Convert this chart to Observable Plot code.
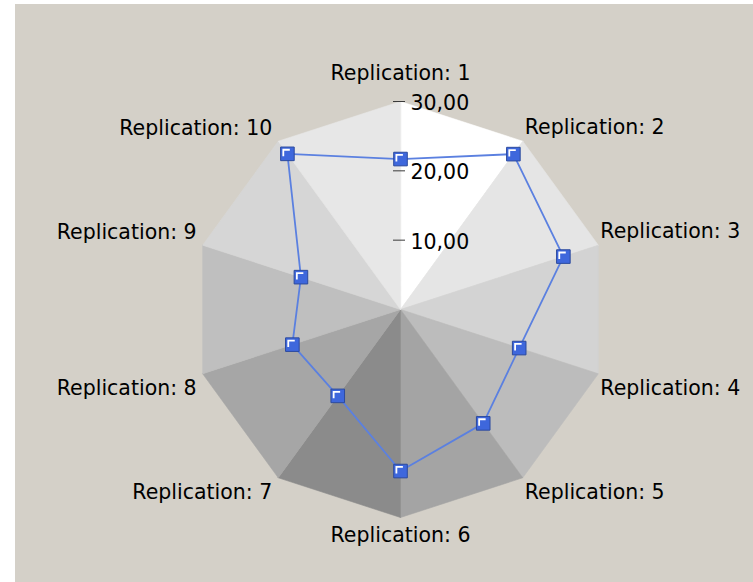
<!DOCTYPE html>
<html>
<head>
<meta charset="utf-8">
<script src="https://cdn.jsdelivr.net/npm/d3@7"></script>
<script src="https://cdn.jsdelivr.net/npm/@observablehq/plot@0.6"></script>
<style>
  html, body { margin: 0; padding: 0; background: #ffffff; }
  #wrap { position: relative; width: 753px; height: 582px; overflow: hidden; }
  #panel { position: absolute; left: 15px; top: 4px; right: 0; bottom: 0; background: #d4d0c8; }
  #chart { position: absolute; left: 0; top: 0; }
</style>
</head>
<body>
<div id="wrap"><div id="panel"></div><div id="chart"></div></div>
<script>
// Radar axes, one per replication, clockwise from the top
const categories = [
  "Replication: 1", "Replication: 2", "Replication: 3", "Replication: 4", "Replication: 5",
  "Replication: 6", "Replication: 7", "Replication: 8", "Replication: 9", "Replication: 10"
];
// Measured value on each axis
const values = [21.7, 27.7, 24.7, 18.0, 20.3, 23.3, 15.4, 16.4, 15.1, 27.75];
// Radial ticks printed along the first axis
const tickValues = [10, 20, 30];
const axisMax = 30;
// Shade of each pyramid face, face i lies between axis i and axis i+1
const faceShades = ["#ffffff", "#e5e5e5", "#d3d3d3", "#bcbcbc", "#a4a4a4",
                    "#8b8b8b", "#a6a6a6", "#bfbfbf", "#d6d6d6", "#e7e7e7"];

const n = categories.length;
const angle = i => (2 * Math.PI * i) / n;
const px = (v, i) => v * Math.sin(angle(i));
const py = (v, i) => v * Math.cos(angle(i));
const fmt = v => v.toFixed(2).replace(".", ",");

const points = values.map((value, i) => ({category: categories[i], value, i}));
const labels = categories.map((category, i) => ({category, i}));

// Filled triangular faces of the background pyramid
const faceMarks = faceShades.map((shade, i) => Plot.line(
  [{v: 0, i}, {v: axisMax, i}, {v: axisMax, i: (i + 1) % n}],
  {x: d => px(d.v, d.i), y: d => py(d.v, d.i), curve: "linear-closed",
   fill: shade, stroke: shade, strokeWidth: 0.6}
));

// Square marker with a light bevel in its upper-left corner
const squareSymbol = {
  draw(ctx, size) {
    const h = Math.sqrt(size / Math.PI);
    ctx.moveTo(-h, -h); ctx.lineTo(h, -h); ctx.lineTo(h, h); ctx.lineTo(-h, h); ctx.closePath();
  }
};
const bevelSymbol = {
  draw(ctx, size) {
    const h = Math.sqrt(size / Math.PI);
    ctx.moveTo(-h + 2.7, h - 4.4);
    ctx.lineTo(-h + 2.7, -h + 2.7);
    ctx.lineTo(h - 4.4, -h + 2.7);
  }
};

// Category labels sit just outside their vertex
const labelGroup = (idx, opts) => Plot.text(labels.filter(d => idx.includes(d.i)), {
  x: d => px(axisMax, d.i), y: d => py(axisMax, d.i), text: "category",
  fontSize: 20.5, fill: "#000000", ...opts
});

const chart = Plot.plot({
  width: 753,
  height: 582,
  marginLeft: 192,
  marginRight: 145,
  marginTop: 101,
  marginBottom: 65,
  x: {domain: [-axisMax, axisMax], axis: null},
  y: {domain: [-axisMax, axisMax], axis: null},
  style: {fontFamily: "'DejaVu Sans', sans-serif", background: "transparent", overflow: "visible"},
  marks: [
    ...faceMarks,
    Plot.ruleY(tickValues, {y: d => d, x1: 0, x2: 0, insetLeft: -7, insetRight: -5,
      stroke: "#3a3a3a", strokeWidth: 1}),
    Plot.text(tickValues, {x: 0, y: d => d, text: d => fmt(d), textAnchor: "start",
      dx: 10, dy: 2, fontSize: 20.5, fill: "#000000"}),
    Plot.line(points, {x: d => px(d.value, d.i), y: d => py(d.value, d.i),
      curve: "linear-closed", stroke: "#5b80e0", strokeWidth: 1.8}),
    Plot.dot(points, {x: d => px(d.value, d.i), y: d => py(d.value, d.i),
      symbol: squareSymbol, r: 6.8, fill: "#3e67dc", stroke: "#2c4a9e", strokeWidth: 1}),
    Plot.dot(points, {x: d => px(d.value, d.i), y: d => py(d.value, d.i),
      symbol: bevelSymbol, r: 6.8, fill: "none", stroke: "#ffffff", strokeWidth: 1.8}),
    labelGroup([0], {textAnchor: "middle", dy: -28}),
    labelGroup([5], {textAnchor: "middle", dy: 18}),
    labelGroup([1, 2], {textAnchor: "start", dx: 2, dy: -14}),
    labelGroup([3, 4], {textAnchor: "start", dx: 2, dy: 15}),
    labelGroup([6, 7], {textAnchor: "end", dx: -6, dy: 15}),
    labelGroup([8, 9], {textAnchor: "end", dx: -6, dy: -13})
  ]
});

document.getElementById("chart").appendChild(chart);
</script>
</body>
</html>
